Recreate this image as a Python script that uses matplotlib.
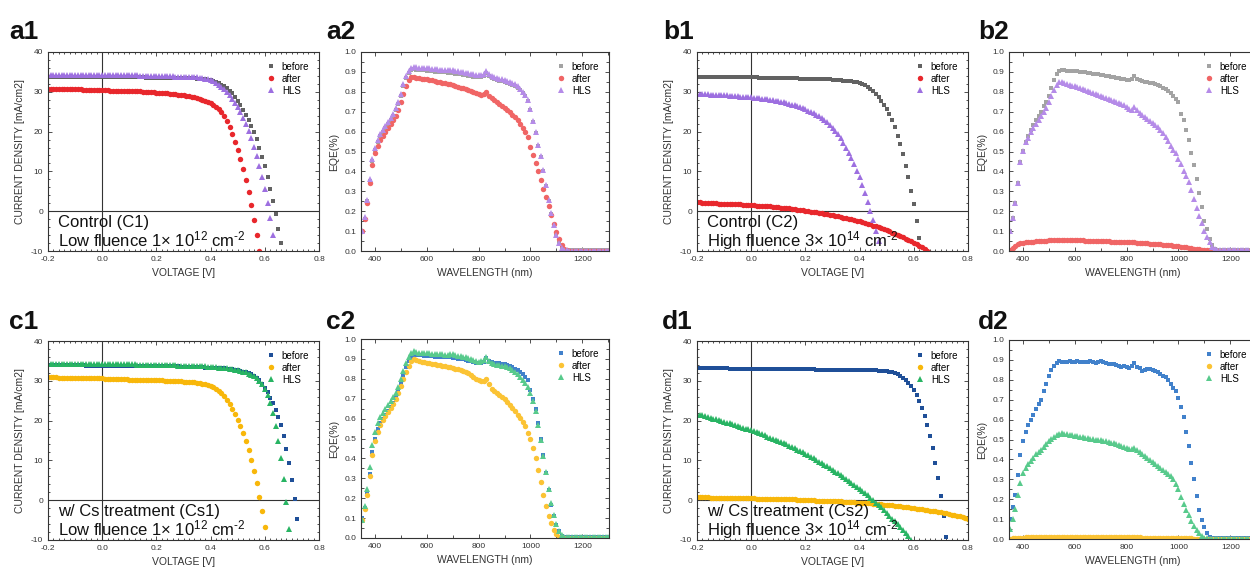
import numpy as np
import matplotlib
matplotlib.use('Agg')
import matplotlib.pyplot as plt
from matplotlib.ticker import MultipleLocator

plt.rcParams['font.family'] = 'Liberation Sans'
plt.rcParams['mathtext.fontset'] = 'custom'
plt.rcParams['mathtext.rm'] = 'Liberation Sans'
plt.rcParams['mathtext.it'] = 'Liberation Sans:italic'
plt.rcParams['axes.unicode_minus'] = False

labels = ['before', 'after', 'HLS']

# ---- J-V data: current density [mA/cm2], voltage from -0.2 V in 0.01 V steps ----
a1_before = [
    33.8, 33.8, 33.8, 33.8, 33.8, 33.8, 33.8, 33.8, 33.7, 33.7,
    33.7, 33.7, 33.7, 33.7, 33.7, 33.7, 33.7, 33.7, 33.7, 33.7,
    33.7, 33.7, 33.7, 33.7, 33.7, 33.6, 33.6, 33.6, 33.6, 33.6,
    33.6, 33.6, 33.6, 33.6, 33.6, 33.6, 33.5, 33.5, 33.5, 33.5,
    33.5, 33.5, 33.5, 33.5, 33.5, 33.5, 33.5, 33.4, 33.4, 33.4,
    33.4, 33.4, 33.4, 33.4, 33.4, 33.3, 33.3, 33.2, 33.1, 33.0,
    32.9, 32.7, 32.5, 32.2, 31.8, 31.4, 30.9, 30.3, 29.6, 28.8,
    27.8, 26.7, 25.5, 24.2, 22.9, 21.5, 19.9, 18.1, 16.0, 13.7,
    11.4, 8.6, 5.5, 2.5, -0.7, -4.4, -8.1]
a1_after = [
    30.8, 30.8, 30.8, 30.7, 30.7, 30.7, 30.7, 30.7, 30.6, 30.6,
    30.6, 30.6, 30.6, 30.5, 30.5, 30.5, 30.5, 30.5, 30.4, 30.4,
    30.4, 30.4, 30.4, 30.3, 30.3, 30.3, 30.3, 30.3, 30.2, 30.2,
    30.2, 30.2, 30.1, 30.1, 30.1, 30.0, 30.0, 30.0, 29.9, 29.9,
    29.8, 29.8, 29.7, 29.7, 29.6, 29.5, 29.5, 29.4, 29.3, 29.2,
    29.1, 29.0, 28.9, 28.7, 28.6, 28.4, 28.2, 28.0, 27.7, 27.4,
    27.1, 26.7, 26.2, 25.6, 24.8, 23.8, 22.6, 21.2, 19.5, 17.5,
    15.3, 13.0, 10.5, 7.8, 4.8, 1.5, -2.1, -6.0, -10.1]
a1_hls = [
    34.3, 34.3, 34.3, 34.3, 34.3, 34.3, 34.3, 34.2, 34.2, 34.2,
    34.2, 34.2, 34.2, 34.2, 34.2, 34.2, 34.2, 34.2, 34.2, 34.2,
    34.2, 34.2, 34.2, 34.1, 34.1, 34.1, 34.1, 34.1, 34.1, 34.1,
    34.1, 34.1, 34.1, 34.1, 34.0, 34.0, 34.0, 34.0, 34.0, 34.0,
    34.0, 34.0, 33.9, 33.9, 33.9, 33.9, 33.9, 33.8, 33.8, 33.8,
    33.8, 33.8, 33.7, 33.7, 33.7, 33.6, 33.5, 33.4, 33.3, 33.1,
    32.9, 32.6, 32.2, 31.8, 31.3, 30.7, 30.0, 29.2, 28.3, 27.3,
    26.2, 24.9, 23.5, 21.9, 20.2, 18.3, 16.2, 13.9, 11.4, 8.6,
    5.5, 2.0, -1.8, -5.9]

b1_before = [
    33.7, 33.7, 33.7, 33.7, 33.7, 33.7, 33.7, 33.6, 33.6, 33.6,
    33.6, 33.6, 33.6, 33.6, 33.6, 33.6, 33.6, 33.6, 33.6, 33.6,
    33.6, 33.6, 33.6, 33.5, 33.5, 33.5, 33.5, 33.5, 33.5, 33.5,
    33.5, 33.5, 33.4, 33.4, 33.4, 33.4, 33.4, 33.4, 33.3, 33.3,
    33.3, 33.3, 33.3, 33.2, 33.2, 33.2, 33.2, 33.1, 33.1, 33.1,
    33.0, 33.0, 32.9, 32.9, 32.8, 32.8, 32.7, 32.6, 32.5, 32.4,
    32.3, 32.0, 31.6, 31.2, 30.7, 30.1, 29.4, 28.6, 27.7, 26.7,
    25.6, 24.3, 22.8, 21.1, 19.0, 16.9, 14.3, 11.4, 8.5, 5.0,
    1.7, -2.4, -6.8]
b1_after = [
    2.2, 2.2, 2.1, 2.1, 2.1, 2.0, 2.0, 2.0, 1.9, 1.9,
    1.9, 1.8, 1.8, 1.8, 1.7, 1.7, 1.7, 1.6, 1.6, 1.6,
    1.5, 1.5, 1.4, 1.4, 1.3, 1.3, 1.2, 1.2, 1.1, 1.0,
    1.0, 0.9, 0.8, 0.8, 0.7, 0.6, 0.5, 0.4, 0.3, 0.2,
    0.1, 0.0, -0.1, -0.2, -0.3, -0.4, -0.5, -0.6, -0.8, -0.9,
    -1.0, -1.1, -1.3, -1.4, -1.6, -1.7, -1.9, -2.0, -2.2, -2.4,
    -2.5, -2.7, -2.9, -3.1, -3.3, -3.6, -3.8, -4.0, -4.3, -4.5,
    -4.8, -5.1, -5.4, -5.7, -6.0, -6.3, -6.6, -6.9, -7.2, -7.5,
    -7.9, -8.3, -8.7, -9.1, -9.5, -9.9, -10.4]
b1_hls = [
    29.5, 29.5, 29.4, 29.4, 29.4, 29.3, 29.3, 29.3, 29.2, 29.2,
    29.1, 29.1, 29.0, 29.0, 28.9, 28.9, 28.8, 28.8, 28.7, 28.7,
    28.6, 28.5, 28.5, 28.4, 28.3, 28.2, 28.1, 28.0, 27.9, 27.8,
    27.7, 27.5, 27.4, 27.2, 27.0, 26.8, 26.6, 26.4, 26.2, 25.9,
    25.6, 25.3, 25.0, 24.6, 24.2, 23.8, 23.3, 22.8, 22.3, 21.7,
    21.0, 20.2, 19.3, 18.3, 17.2, 16.0, 14.7, 13.3, 11.8, 10.2,
    8.5, 6.6, 4.6, 2.4, 0.1, -2.3, -4.9, -7.6, -10.4]

c1_before = [
    33.9, 33.9, 33.9, 33.9, 33.9, 33.9, 33.9, 33.9, 33.9, 33.9,
    33.9, 33.9, 33.9, 33.9, 33.8, 33.8, 33.8, 33.8, 33.8, 33.8,
    33.8, 33.8, 33.8, 33.8, 33.8, 33.8, 33.8, 33.8, 33.8, 33.8,
    33.8, 33.8, 33.7, 33.7, 33.7, 33.7, 33.7, 33.7, 33.7, 33.7,
    33.7, 33.7, 33.6, 33.6, 33.6, 33.6, 33.6, 33.6, 33.6, 33.5,
    33.5, 33.5, 33.5, 33.5, 33.4, 33.4, 33.4, 33.4, 33.3, 33.3,
    33.3, 33.2, 33.2, 33.2, 33.1, 33.1, 33.0, 33.0, 32.9, 32.8,
    32.6, 32.5, 32.3, 32.1, 31.9, 31.6, 31.2, 30.7, 30.1, 29.3,
    28.3, 27.1, 25.8, 24.4, 22.7, 21.0, 18.9, 16.1, 12.9, 9.3,
    5.2, 0.4, -4.8]
c1_after = [
    30.9, 30.9, 30.9, 30.9, 30.8, 30.8, 30.8, 30.8, 30.8, 30.7,
    30.7, 30.7, 30.7, 30.7, 30.7, 30.6, 30.6, 30.6, 30.6, 30.6,
    30.6, 30.5, 30.5, 30.5, 30.5, 30.5, 30.4, 30.4, 30.4, 30.4,
    30.3, 30.3, 30.3, 30.3, 30.2, 30.2, 30.2, 30.2, 30.1, 30.1,
    30.1, 30.1, 30.1, 30.0, 30.0, 30.0, 30.0, 29.9, 29.9, 29.9,
    29.8, 29.8, 29.7, 29.7, 29.6, 29.5, 29.4, 29.3, 29.1, 28.9,
    28.7, 28.4, 28.0, 27.5, 26.9, 26.1, 25.2, 24.2, 23.0, 21.7,
    20.2, 18.6, 16.8, 14.8, 12.6, 10.1, 7.4, 4.4, 0.9, -2.8,
    -6.8]
c1_hls = [
    34.3, 34.3, 34.3, 34.3, 34.3, 34.3, 34.2, 34.2, 34.2, 34.2,
    34.2, 34.2, 34.2, 34.2, 34.2, 34.2, 34.2, 34.2, 34.2, 34.2,
    34.2, 34.2, 34.1, 34.1, 34.1, 34.1, 34.1, 34.1, 34.1, 34.1,
    34.1, 34.1, 34.1, 34.0, 34.0, 34.0, 34.0, 34.0, 34.0, 34.0,
    34.0, 34.0, 33.9, 33.9, 33.9, 33.9, 33.9, 33.9, 33.8, 33.8,
    33.8, 33.8, 33.8, 33.7, 33.7, 33.7, 33.6, 33.6, 33.6, 33.5,
    33.5, 33.4, 33.4, 33.3, 33.3, 33.2, 33.1, 33.0, 32.9, 32.8,
    32.7, 32.5, 32.3, 32.1, 31.8, 31.5, 31.1, 30.6, 30.0, 29.1,
    28.0, 26.4, 24.3, 21.9, 18.7, 15.0, 10.5, 5.4, -0.5, -7.3]

d1_before = [
    33.1, 33.1, 33.1, 33.1, 33.1, 33.1, 33.1, 33.1, 33.1, 33.1,
    33.1, 33.1, 33.0, 33.0, 33.0, 33.0, 33.0, 33.0, 33.0, 33.0,
    33.0, 33.0, 33.0, 33.0, 33.0, 33.0, 33.0, 33.0, 33.0, 33.0,
    33.0, 33.0, 33.0, 32.9, 32.9, 32.9, 32.9, 32.9, 32.9, 32.9,
    32.9, 32.9, 32.9, 32.9, 32.8, 32.8, 32.8, 32.8, 32.8, 32.8,
    32.8, 32.8, 32.8, 32.8, 32.8, 32.8, 32.7, 32.7, 32.7, 32.7,
    32.7, 32.7, 32.7, 32.6, 32.6, 32.6, 32.6, 32.5, 32.5, 32.5,
    32.4, 32.3, 32.1, 31.9, 31.6, 31.3, 30.8, 30.2, 29.5, 28.7,
    27.7, 26.5, 25.0, 23.2, 21.1, 18.8, 16.1, 13.0, 9.4, 5.5,
    1.1, -3.9, -9.2]
d1_after = [
    0.7, 0.7, 0.7, 0.7, 0.7, 0.6, 0.6, 0.6, 0.6, 0.6,
    0.6, 0.6, 0.6, 0.6, 0.5, 0.5, 0.5, 0.5, 0.5, 0.5,
    0.5, 0.5, 0.4, 0.4, 0.4, 0.4, 0.4, 0.3, 0.3, 0.3,
    0.3, 0.3, 0.2, 0.2, 0.2, 0.2, 0.2, 0.1, 0.1, 0.1,
    0.1, 0.0, 0.0, 0.0, -0.1, -0.1, -0.1, -0.1, -0.2, -0.2,
    -0.2, -0.3, -0.3, -0.3, -0.4, -0.4, -0.4, -0.5, -0.5, -0.6,
    -0.6, -0.7, -0.7, -0.8, -0.8, -0.9, -0.9, -1.0, -1.0, -1.1,
    -1.2, -1.2, -1.3, -1.4, -1.4, -1.5, -1.6, -1.7, -1.8, -1.9,
    -2.0, -2.1, -2.2, -2.3, -2.4, -2.5, -2.6, -2.7, -2.8, -2.9,
    -3.0, -3.1, -3.3, -3.4, -3.6, -3.7, -3.9, -4.0, -4.2, -4.4,
    -4.6]
d1_hls = [
    21.7, 21.5, 21.3, 21.1, 20.9, 20.7, 20.5, 20.3, 20.1, 19.9,
    19.7, 19.5, 19.3, 19.1, 18.9, 18.6, 18.4, 18.2, 18.0, 17.8,
    17.6, 17.3, 17.1, 16.8, 16.6, 16.3, 16.0, 15.7, 15.5, 15.2,
    14.9, 14.6, 14.3, 14.0, 13.7, 13.3, 13.0, 12.7, 12.3, 12.0,
    11.6, 11.3, 10.9, 10.5, 10.1, 9.7, 9.3, 8.9, 8.5, 8.1,
    7.7, 7.2, 6.8, 6.3, 5.9, 5.4, 4.9, 4.4, 3.9, 3.4,
    2.9, 2.4, 1.8, 1.2, 0.6, 0.0, -0.6, -1.2, -1.8, -2.5,
    -3.2, -3.9, -4.6, -5.3, -6.0, -6.7, -7.5, -8.3, -9.1, -9.9,
    -10.7]

# ---- EQE data: 350 nm to 1300 nm in 10 nm steps ----
a2_before = [
    0.10, 0.16, 0.25, 0.35, 0.45, 0.51, 0.55, 0.58, 0.60, 0.62,
    0.64, 0.66, 0.68, 0.71, 0.74, 0.78, 0.83, 0.87, 0.895, 0.91,
    0.915, 0.91, 0.91, 0.91, 0.91, 0.905, 0.905, 0.905, 0.90, 0.90,
    0.90, 0.90, 0.90, 0.895, 0.895, 0.895, 0.89, 0.89, 0.89, 0.885,
    0.885, 0.88, 0.88, 0.875, 0.875, 0.875, 0.875, 0.88, 0.895, 0.88,
    0.87, 0.865, 0.86, 0.855, 0.855, 0.85, 0.845, 0.84, 0.835, 0.83,
    0.82, 0.81, 0.795, 0.78, 0.755, 0.71, 0.65, 0.595, 0.53, 0.47,
    0.40, 0.325, 0.25, 0.185, 0.125, 0.075, 0.038, 0.015, 0.006, 0.003,
    0.003, 0.003, 0.003, 0.003, 0.003, 0.003, 0.003, 0.003,
    0.003, 0.003, 0.003, 0.003, 0.003, 0.003, 0.003, 0.003]
a2_after = [
    0.10, 0.16, 0.24, 0.34, 0.43, 0.49, 0.53, 0.56, 0.58, 0.60,
    0.62, 0.64, 0.66, 0.68, 0.71, 0.75, 0.79, 0.83, 0.86, 0.875,
    0.875, 0.87, 0.87, 0.865, 0.865, 0.865, 0.86, 0.86, 0.855, 0.85,
    0.85, 0.845, 0.845, 0.84, 0.84, 0.835, 0.83, 0.825, 0.82, 0.82,
    0.815, 0.81, 0.805, 0.80, 0.795, 0.79, 0.785, 0.79, 0.80, 0.78,
    0.77, 0.76, 0.75, 0.74, 0.73, 0.72, 0.71, 0.70, 0.685, 0.675,
    0.66, 0.64, 0.62, 0.60, 0.575, 0.525, 0.48, 0.44, 0.40, 0.355,
    0.31, 0.27, 0.225, 0.18, 0.135, 0.095, 0.06, 0.03, 0.01, 0.004,
    0.002, 0.002, 0.002, 0.002, 0.002, 0.002, 0.002, 0.002,
    0.002, 0.002, 0.002, 0.002, 0.002, 0.002, 0.002, 0.002]
a2_hls = [
    0.10, 0.17, 0.255, 0.36, 0.46, 0.52, 0.56, 0.59, 0.61, 0.63,
    0.65, 0.67, 0.69, 0.72, 0.75, 0.79, 0.84, 0.88, 0.905, 0.92,
    0.925, 0.925, 0.92, 0.92, 0.92, 0.92, 0.92, 0.915, 0.915, 0.915,
    0.91, 0.91, 0.91, 0.91, 0.91, 0.91, 0.905, 0.905, 0.90, 0.90,
    0.895, 0.895, 0.89, 0.89, 0.885, 0.885, 0.885, 0.89, 0.905, 0.89,
    0.88, 0.875, 0.87, 0.865, 0.865, 0.86, 0.855, 0.85, 0.845, 0.84,
    0.83, 0.815, 0.80, 0.785, 0.76, 0.715, 0.655, 0.60, 0.535, 0.475,
    0.405, 0.33, 0.255, 0.19, 0.13, 0.08, 0.04, 0.015, 0.006, 0.003,
    0.002, 0.002, 0.002, 0.002, 0.002, 0.002, 0.002, 0.002,
    0.002, 0.002, 0.002, 0.002, 0.002, 0.002, 0.002, 0.002]

b2_before = [
    0.10, 0.165, 0.24, 0.34, 0.445, 0.505, 0.55, 0.58, 0.61, 0.635,
    0.66, 0.68, 0.70, 0.73, 0.75, 0.78, 0.82, 0.86, 0.89, 0.905,
    0.91, 0.91, 0.905, 0.905, 0.905, 0.905, 0.905, 0.90, 0.90, 0.90,
    0.895, 0.895, 0.89, 0.89, 0.89, 0.885, 0.885, 0.88, 0.88, 0.875,
    0.875, 0.87, 0.87, 0.865, 0.865, 0.86, 0.86, 0.865, 0.88, 0.865,
    0.86, 0.855, 0.85, 0.85, 0.845, 0.845, 0.84, 0.835, 0.83, 0.82,
    0.815, 0.805, 0.795, 0.78, 0.765, 0.75, 0.69, 0.66, 0.61, 0.56,
    0.49, 0.43, 0.36, 0.29, 0.22, 0.15, 0.11, 0.06, 0.03, 0.012,
    0.006, 0.005, 0.005, 0.005, 0.005, 0.005, 0.005, 0.005,
    0.005, 0.005, 0.005, 0.005, 0.005, 0.005, 0.005, 0.005]
b2_after = [
    0.005, 0.015, 0.025, 0.033, 0.038, 0.042, 0.044, 0.045, 0.046, 0.047,
    0.048, 0.049, 0.05, 0.051, 0.052, 0.053, 0.054, 0.055, 0.055, 0.056,
    0.056, 0.056, 0.055, 0.055, 0.055, 0.054, 0.054, 0.053, 0.053, 0.052,
    0.052, 0.051, 0.051, 0.05, 0.05, 0.049, 0.049, 0.048, 0.048, 0.047,
    0.047, 0.046, 0.046, 0.045, 0.045, 0.044, 0.044, 0.043, 0.043, 0.042,
    0.041, 0.04, 0.039, 0.038, 0.037, 0.036, 0.035, 0.034, 0.033, 0.032,
    0.031, 0.03, 0.029, 0.027, 0.026, 0.024, 0.022, 0.02, 0.018, 0.016,
    0.014, 0.012, 0.01, 0.009, 0.007, 0.006, 0.005, 0.004, 0.003, 0.002,
    0.001, 0.001, 0.001, 0.001, 0.001, 0.001, 0.001, 0.001,
    0.001, 0.001, 0.001, 0.001, 0.001, 0.001, 0.001, 0.001]
b2_hls = [
    0.10, 0.165, 0.24, 0.34, 0.445, 0.505, 0.55, 0.57, 0.60, 0.62,
    0.64, 0.66, 0.68, 0.70, 0.72, 0.75, 0.78, 0.81, 0.835, 0.85,
    0.85, 0.845, 0.84, 0.835, 0.83, 0.83, 0.825, 0.82, 0.815, 0.81,
    0.805, 0.80, 0.795, 0.79, 0.785, 0.78, 0.775, 0.77, 0.765, 0.76,
    0.755, 0.75, 0.745, 0.74, 0.735, 0.725, 0.715, 0.71, 0.725, 0.71,
    0.695, 0.685, 0.675, 0.665, 0.655, 0.645, 0.635, 0.625, 0.61, 0.595,
    0.575, 0.555, 0.53, 0.51, 0.49, 0.46, 0.435, 0.40, 0.375, 0.345,
    0.305, 0.26, 0.215, 0.175, 0.14, 0.10, 0.07, 0.045, 0.02, 0.01,
    0.005, 0.005, 0.005, 0.005, 0.005, 0.005, 0.005, 0.005,
    0.005, 0.005, 0.005, 0.005, 0.005, 0.005, 0.005, 0.005]

c2_before = [
    0.10, 0.15, 0.23, 0.32, 0.43, 0.50, 0.55, 0.58, 0.60, 0.62,
    0.64, 0.66, 0.68, 0.71, 0.74, 0.78, 0.82, 0.86, 0.89, 0.91,
    0.92, 0.92, 0.92, 0.92, 0.915, 0.915, 0.915, 0.915, 0.91, 0.91,
    0.91, 0.91, 0.91, 0.91, 0.91, 0.905, 0.905, 0.90, 0.90, 0.90,
    0.895, 0.89, 0.89, 0.885, 0.88, 0.88, 0.88, 0.885, 0.905, 0.89,
    0.885, 0.88, 0.88, 0.88, 0.875, 0.875, 0.87, 0.865, 0.86, 0.85,
    0.845, 0.835, 0.825, 0.81, 0.795, 0.745, 0.70, 0.65, 0.58, 0.50,
    0.415, 0.325, 0.24, 0.167, 0.11, 0.067, 0.033, 0.012, 0.005, 0.003,
    0.003, 0.003, 0.003, 0.003, 0.003, 0.003, 0.003, 0.003,
    0.003, 0.003, 0.003, 0.003, 0.003, 0.003, 0.003, 0.003]
c2_after = [
    0.09, 0.145, 0.215, 0.31, 0.415, 0.485, 0.535, 0.57, 0.595, 0.615,
    0.635, 0.655, 0.675, 0.70, 0.73, 0.765, 0.80, 0.835, 0.865, 0.89,
    0.90, 0.895, 0.89, 0.885, 0.885, 0.88, 0.88, 0.875, 0.875, 0.87,
    0.87, 0.865, 0.865, 0.86, 0.86, 0.855, 0.85, 0.85, 0.845, 0.84,
    0.835, 0.83, 0.82, 0.81, 0.80, 0.795, 0.79, 0.79, 0.80, 0.775,
    0.75, 0.74, 0.73, 0.72, 0.71, 0.70, 0.685, 0.67, 0.655, 0.64,
    0.62, 0.605, 0.585, 0.565, 0.53, 0.50, 0.45, 0.40, 0.34, 0.28,
    0.215, 0.16, 0.11, 0.075, 0.04, 0.02, 0.007, 0.003, 0.002, 0.002,
    0.002, 0.002, 0.002, 0.002, 0.002, 0.002, 0.002, 0.002,
    0.002, 0.002, 0.002, 0.002, 0.002, 0.002, 0.002, 0.002]
c2_hls = [
    0.09, 0.16, 0.245, 0.355, 0.465, 0.535, 0.58, 0.61, 0.63, 0.65,
    0.67, 0.69, 0.71, 0.73, 0.76, 0.80, 0.84, 0.88, 0.91, 0.93,
    0.94, 0.935, 0.93, 0.93, 0.93, 0.93, 0.93, 0.925, 0.925, 0.925,
    0.925, 0.925, 0.92, 0.92, 0.925, 0.925, 0.92, 0.915, 0.915, 0.91,
    0.91, 0.905, 0.90, 0.895, 0.89, 0.885, 0.89, 0.895, 0.91, 0.89,
    0.88, 0.875, 0.87, 0.87, 0.865, 0.865, 0.86, 0.855, 0.845, 0.835,
    0.825, 0.81, 0.795, 0.78, 0.76, 0.73, 0.69, 0.64, 0.57, 0.49,
    0.41, 0.33, 0.245, 0.175, 0.115, 0.07, 0.035, 0.015, 0.006, 0.003,
    0.003, 0.003, 0.003, 0.003, 0.003, 0.003, 0.003, 0.003,
    0.003, 0.003, 0.003, 0.003, 0.003, 0.003, 0.003, 0.003]

d2_before = [
    0.10, 0.16, 0.22, 0.32, 0.42, 0.49, 0.54, 0.575, 0.60, 0.625,
    0.655, 0.68, 0.70, 0.745, 0.78, 0.82, 0.85, 0.87, 0.885, 0.895,
    0.89, 0.89, 0.89, 0.895, 0.89, 0.89, 0.895, 0.89, 0.89, 0.89,
    0.89, 0.895, 0.89, 0.885, 0.89, 0.895, 0.89, 0.885, 0.88, 0.88,
    0.88, 0.875, 0.87, 0.865, 0.87, 0.865, 0.86, 0.87, 0.885, 0.865,
    0.86, 0.845, 0.85, 0.855, 0.855, 0.85, 0.845, 0.84, 0.83, 0.82,
    0.815, 0.80, 0.78, 0.76, 0.745, 0.71, 0.665, 0.615, 0.54, 0.465,
    0.38, 0.30, 0.215, 0.145, 0.095, 0.06, 0.03, 0.012, 0.005, 0.003,
    0.003, 0.003, 0.003, 0.003, 0.003, 0.003, 0.003, 0.003,
    0.003, 0.003, 0.003, 0.003, 0.003, 0.003, 0.003, 0.003]
d2_after = [
    0.002, 0.003, 0.004, 0.005, 0.006, 0.007, 0.008, 0.008, 0.009, 0.009,
    0.01, 0.01, 0.01, 0.011, 0.011, 0.011, 0.012, 0.012, 0.012, 0.012,
    0.012, 0.012, 0.012, 0.012, 0.012, 0.012, 0.012, 0.012, 0.012, 0.012,
    0.012, 0.011, 0.011, 0.011, 0.011, 0.011, 0.01, 0.01, 0.01, 0.01,
    0.01, 0.009, 0.009, 0.009, 0.009, 0.009, 0.008, 0.008, 0.008, 0.008,
    0.008, 0.007, 0.007, 0.007, 0.007, 0.006, 0.006, 0.006, 0.006, 0.005,
    0.005, 0.005, 0.005, 0.004, 0.004, 0.004, 0.004, 0.003, 0.003, 0.003,
    0.003, 0.002, 0.002, 0.002, 0.002, 0.001, 0.001, 0.001, 0.001, 0.001,
    0.001, 0.001, 0.001, 0.001, 0.001, 0.001, 0.001, 0.001,
    0.001, 0.001, 0.001, 0.001, 0.001, 0.001, 0.001, 0.001]
d2_hls = [
    0.05, 0.10, 0.15, 0.22, 0.28, 0.33, 0.355, 0.375, 0.39, 0.405,
    0.425, 0.435, 0.445, 0.46, 0.475, 0.49, 0.505, 0.515, 0.525, 0.53,
    0.535, 0.53, 0.53, 0.525, 0.525, 0.52, 0.52, 0.515, 0.515, 0.51,
    0.51, 0.505, 0.505, 0.50, 0.50, 0.495, 0.49, 0.49, 0.485, 0.48,
    0.48, 0.475, 0.47, 0.465, 0.46, 0.455, 0.45, 0.45, 0.455, 0.445,
    0.435, 0.425, 0.415, 0.405, 0.395, 0.385, 0.375, 0.365, 0.355, 0.345,
    0.335, 0.325, 0.315, 0.30, 0.275, 0.25, 0.21, 0.175, 0.145, 0.12,
    0.09, 0.065, 0.045, 0.03, 0.015, 0.006, 0.003, 0.002, 0.002, 0.002,
    0.002, 0.002, 0.002, 0.002, 0.002, 0.002, 0.002, 0.002,
    0.002, 0.002, 0.002, 0.002, 0.002, 0.002, 0.002, 0.002]

wavelength = np.arange(350, 1301, 10)

# colours per panel: before, after, HLS
ctrl_jv = ['#626262', '#e8272c', '#9d6fe0']
ctrl_eqe = ['#a3a3a3', '#f06565', '#b58be8']
cs_jv = ['#1f4f98', '#f8b70a', '#28b463']
cs_eqe = ['#4181cb', '#fbc334', '#58ca8c']

markers = ['s', 'o', '^']
msizes = [3.4, 3.9, 4.3]

W, H = 1250.0, 569.0


def px_axes(fig, left, top, width, height):
    return fig.add_axes([left / W, 1 - (top + height) / H, width / W, height / H])


def style_axes(ax):
    for s in ax.spines.values():
        s.set_color('#333333')
        s.set_linewidth(0.8)
    ax.tick_params(which='both', direction='in', top=True, right=True,
                   colors='#333333', labelsize=6, width=0.6)
    ax.tick_params(which='major', length=3)
    ax.tick_params(which='minor', length=1.5)


def jv_panel(ax, series, colors, line1, line2):
    ax.axhline(0, color='#333333', lw=0.8, zorder=1)
    ax.axvline(0, color='#333333', lw=0.8, zorder=1)
    for j, c, m, ms, lab in zip(series, colors, markers, msizes, labels):
        v = -0.2 + 0.01 * np.arange(len(j))
        ax.plot(v, j, ls='none', marker=m, ms=ms, mew=0, color=c,
                label=lab, zorder=2)
    ax.set_xlim(-0.2, 0.8)
    ax.set_ylim(-10, 40)
    ax.xaxis.set_minor_locator(MultipleLocator(0.02))
    ax.yaxis.set_minor_locator(MultipleLocator(2))
    ax.set_xticks([-0.2, 0.0, 0.2, 0.4, 0.6, 0.8])
    ax.set_xticklabels(['-0.2', '0.0', '0.2', '0.4', '0.6', '0.8'])
    ax.set_yticks([-10, 0, 10, 20, 30, 40])
    ax.set_yticklabels(['-10', '0', '10', '20', '30', '40'])
    style_axes(ax)
    ax.set_xlabel('VOLTAGE [V]', fontsize=7.5, color='#333333')
    ax.set_ylabel('CURRENT DENSITY [mA/cm2]', fontsize=7.5, color='#333333')
    ax.text(0.037, 0.12, line1, transform=ax.transAxes, fontsize=12,
            color='#111111', va='baseline')
    ax.text(0.037, 0.025, line2, transform=ax.transAxes, fontsize=12,
            color='#111111', va='baseline')
    ax.legend(loc='upper right', frameon=False, fontsize=7, handletextpad=0.5,
              labelspacing=0.2, borderaxespad=0.6, handlelength=1.2)


def eqe_panel(ax, series, colors):
    for q, c, m, ms, lab in zip(series, colors, markers, msizes, labels):
        ax.plot(wavelength[:len(q)], q, ls='none', marker=m, ms=ms, mew=0,
                color=c, label=lab, zorder=2)
    ax.set_xlim(346, 1303)
    ax.set_ylim(0, 1.0)
    ax.xaxis.set_major_locator(MultipleLocator(200))
    ax.xaxis.set_minor_locator(MultipleLocator(100))
    ax.yaxis.set_minor_locator(MultipleLocator(0.05))
    ticks = [0.0, 0.1, 0.2, 0.3, 0.4, 0.5, 0.6, 0.7, 0.8, 0.9, 1.0]
    ax.set_yticks(ticks)
    ax.set_yticklabels(['%.1f' % t for t in ticks])
    style_axes(ax)
    ax.tick_params(which='minor', length=2.5)
    ax.set_xlabel('WAVELENGTH (nm)', fontsize=7.5, color='#333333')
    ax.set_ylabel('EQE(%)', fontsize=7.5, color='#333333')
    ax.legend(loc='upper right', frameon=False, fontsize=7, handletextpad=0.5,
              labelspacing=0.2, borderaxespad=0.6, handlelength=1.2)


fig = plt.figure(figsize=(12.5, 5.69), dpi=100)

low = r'Low fluence 1× 10$^{12}$ cm$^{\text{-2}}$'
high = r'High fluence 3× 10$^{14}$ cm$^{\text{-2}}$'

ax_a1 = px_axes(fig, 48, 52, 271, 199)
jv_panel(ax_a1, [a1_before, a1_after, a1_hls], ctrl_jv, 'Control (C1)', low)
ax_a2 = px_axes(fig, 361, 52, 248, 199)
eqe_panel(ax_a2, [a2_before, a2_after, a2_hls], ctrl_eqe)

ax_b1 = px_axes(fig, 697, 52, 271, 199)
jv_panel(ax_b1, [b1_before, b1_after, b1_hls], ctrl_jv, 'Control (C2)', high)
ax_b2 = px_axes(fig, 1009, 52, 248, 199)
eqe_panel(ax_b2, [b2_before, b2_after, b2_hls], ctrl_eqe)

ax_c1 = px_axes(fig, 48, 341, 271, 199)
jv_panel(ax_c1, [c1_before, c1_after, c1_hls], cs_jv,
         'w/ Cs treatment (Cs1)', low)
ax_c2 = px_axes(fig, 361, 339, 248, 199)
eqe_panel(ax_c2, [c2_before, c2_after, c2_hls], cs_eqe)

ax_d1 = px_axes(fig, 697, 341, 271, 199)
jv_panel(ax_d1, [d1_before, d1_after, d1_hls], cs_jv,
         'w/ Cs treatment (Cs2)', high)
ax_d2 = px_axes(fig, 1009, 340, 248, 199)
eqe_panel(ax_d2, [d2_before, d2_after, d2_hls], cs_eqe)

panel_tags = ['a1', 'a2', 'b1', 'b2', 'c1', 'c2', 'd1', 'd2']
tag_x = [9, 326, 663, 978, 9, 326, 662, 978]
tag_y = [39, 39, 39, 39, 329, 329, 329, 329]
for t, x, y in zip(panel_tags, tag_x, tag_y):
    fig.text(x / W, 1 - y / H, t, fontsize=19, fontweight='bold',
             va='baseline', ha='left', color='#111111')

fig.savefig('out.png', dpi=100)
